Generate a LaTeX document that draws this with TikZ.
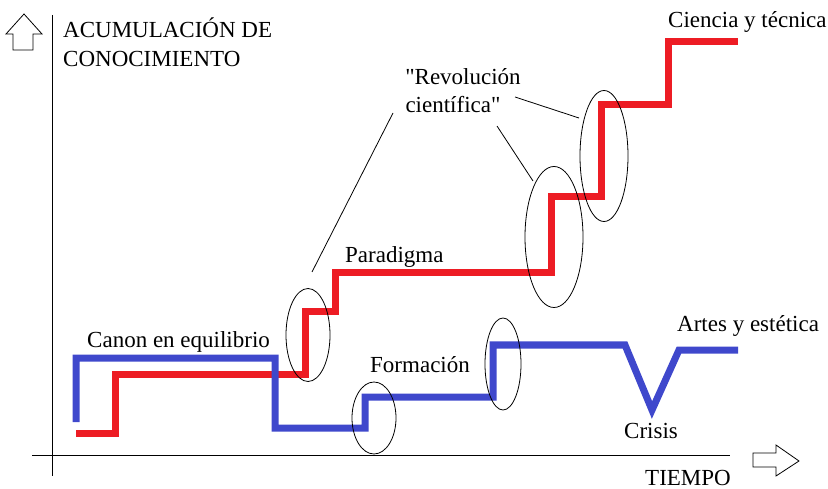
\documentclass[tikz,border=0pt]{standalone}
\usepackage{fontspec}
\setmainfont{Liberation Serif}[Ligatures=TeXOff]
\usetikzlibrary{shapes.geometric}
\definecolor{paintred}{RGB}{237,28,36}
\definecolor{paintblue}{RGB}{63,72,204}
\begin{document}
\begin{tikzpicture}[x=1pt,y=-1pt,
  lbl/.style={font=\fontsize{23}{28}\selectfont, inner sep=0pt},
  ring/.style={draw, ellipse, line width=0.8pt, inner sep=0pt},
  redstep/.style={paintred, line width=7pt},
  bluestep/.style={paintblue, line width=7pt}]
\useasboundingbox (0,0) rectangle (828,489);

% axes
\draw[line width=1pt] (52,15) -- (52,476);
\draw[line width=1pt] (32,455) -- (730,455);

% block arrows
\draw[line width=0.8pt] (13,50) -- (13,34) -- (6,34) -- (24,14) -- (42,34) -- (33,34) -- (33,50) -- cycle;
\draw[line width=0.8pt] (753,453) -- (776,453) -- (776,445) -- (799,461) -- (776,476) -- (776,467) -- (753,467) -- cycle;

% curves
\draw[redstep] (76,433) -| (115,374) -| (305,312) -| (335,273) -| (551,197) -| (601,105) -| (668,42) -- (738,42);
\draw[bluestep] (76,422) |- (275,358) |- (365,428) |- (493,397) |- (625,345) -- (652,410) -- (679,350) -- (738,350);

% rings
\foreach \n/\cx/\cy/\w/\h in {1/308/335/44/93, 2/374/418/44/72, 3/503/364/36/92, 4/554/237/58/141, 5/604/156/48/131}
  \node[ring, minimum width=\w, minimum height=\h] (ring\n) at (\cx,\cy) {};

% labels
\node[lbl, anchor=base west] (acum) at (63,37.5) {ACUMULACIÓN DE};
\node[lbl, anchor=base west] (cono) at (63,66.5) {CONOCIMIENTO};
\node[lbl, anchor=base west] (tiempo) at (645,485) {TIEMPO};
\node[lbl, anchor=base west] (ciencia) at (668,28) {Ciencia y técnica};
\node[lbl, anchor=base] (rev1) at (463,85) {"Revolución};
\node[lbl, anchor=base] (rev2) at (453,113) {científica"};
\node[lbl, anchor=base west] (parad) at (345,263) {Paradigma};
\node[lbl, anchor=base west] (canon) at (87,348) {Canon en equilibrio};
\node[lbl, anchor=base west] (form) at (370,373) {Formación};
\node[lbl, anchor=base west] (artes) at (677,331) {Artes y estética};
\node[lbl, anchor=base west] (crisis) at (624,438) {Crisis};

% leaders
\coordinate (t1) at (393,113);
\coordinate (t2) at (497,126);
\coordinate (t3) at (515,97);
\draw[line width=0.8pt] (t1) -- (312,272);
\draw[line width=0.8pt] (t2) -- (533,181);
\draw[line width=0.8pt] (t3) -- (579,118);
\end{tikzpicture}
\end{document}
